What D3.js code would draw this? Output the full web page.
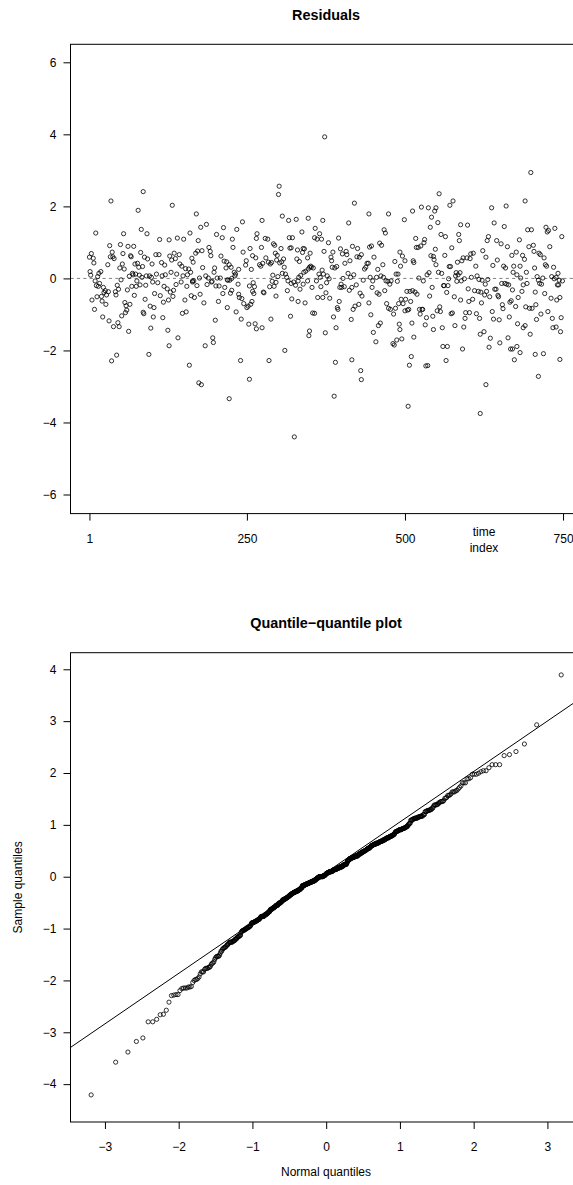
<!DOCTYPE html>
<html><head><meta charset="utf-8">
<script src="https://cdn.jsdelivr.net/npm/d3@7"></script>
<style>body{margin:0;background:#fff}svg{display:block}</style>
</head><body><svg id="c" width="573" height="1185"></svg>
<script>
// ---- data: [time index, residual], by segment ----
const seg1 = [[1,0.59],[2,0.19],[3,0.09],[4,0.69],[5,-0.60],[7,0.56],[8,0.43],[9,-0.86],[10,-0.07],[11,1.26],[12,-0.20],[13,-0.51],[14,0.05],[15,-0.22],[16,0.14],[17,-0.14],[19,0.19],[20,-0.50],[21,-0.63],[22,-1.07],[23,-0.25],[24,-0.39],[26,-0.34],[27,-0.72],[28,-0.46],[30,0.38],[31,-0.37],[32,-1.18],[33,0.91],[34,0.60],[35,2.15],[36,-2.29],[37,0.73],[38,0.60],[39,-1.34],[40,0.55],[42,-0.37],[43,-0.46],[44,-2.13],[45,-0.19],[46,-1.23],[47,-0.30],[48,-1.34],[49,0.29],[50,0.94],[51,-0.04],[52,-1.04],[53,0.40],[54,0.69],[55,1.24],[56,0.26],[57,-0.67],[58,-0.95],[59,-0.76],[60,-0.88],[61,-0.32],[62,0.89],[63,-1.47],[64,0.06],[65,-0.72],[66,0.63],[67,0.60],[68,-0.22],[69,0.14],[70,0.10],[71,0.89],[72,-0.47],[73,0.40]];
const seg2 = [[86,2.41],[78,1.89],[132,2.03],[170,1.79],[83,1.36],[92,1.24],[177,1.42],[186,1.50],[213,1.41],[112,1.08],[127,1.07],[140,1.12],[150,1.09],[160,1.26],[173,1.05],[202,1.22],[211,1.13],[190,0.86],[82,0.72],[88,0.59],[93,0.54],[100,0.40],[106,0.66],[111,0.66],[115,0.44],[120,0.37],[128,0.62],[135,0.70],[143,0.66],[131,0.51],[137,0.55],[144,0.40],[147,0.34],[153,0.27],[158,0.26],[163,0.56],[165,0.45],[169,0.70],[172,0.76],[179,0.77],[180,0.30],[192,0.75],[193,0.63],[199,0.29],[209,0.62],[214,0.48],[77,0.42],[79,0.31],[85,0.33],[74,0.12],[80,0.09],[84,0.03],[91,0.07],[96,0.07],[99,0.03],[107,0.12],[116,0.07],[121,0.10],[130,0.17],[139,0.12],[149,0.07],[156,0.10],[161,0.17],[164,-0.07],[166,-0.07],[175,0.01],[185,0.07],[189,0.01],[195,-0.08],[198,0.17],[203,0.01],[208,0.01],[76,-0.07],[75,-0.22],[81,-0.18],[90,-0.19],[101,-0.10],[109,-0.12],[119,-0.22],[124,-0.29],[129,-0.38],[134,-0.33],[138,-0.17],[146,-0.10],[155,-0.22],[164,-0.10],[171,-0.20],[176,-0.44],[187,-0.17],[194,-0.10],[201,-0.21],[206,-0.21],[212,-0.42],[89,-0.58],[104,-0.42],[113,-0.48],[118,-0.66],[126,-0.60],[133,-0.50],[152,-0.60],[162,-0.48],[167,-0.53],[182,-0.68],[205,-0.64],[97,-0.77],[103,-0.81],[86,-0.94],[87,-0.98],[102,-1.07],[117,-1.09],[148,-0.97],[154,-0.93],[200,-1.16],[98,-1.38],[125,-1.44],[141,-1.65],[127,-1.87],[184,-1.87],[196,-1.65],[197,-1.78],[95,-2.11],[159,-2.41],[174,-2.90],[178,-2.95]];
const seg3 = [[301,2.56],[300,2.33],[306,1.73],[316,1.61],[328,1.64],[347,1.67],[274,1.61],[243,1.57],[234,1.36],[227,1.09],[228,0.86],[266,1.24],[265,1.11],[279,1.11],[283,1.09],[292,0.96],[294,0.92],[317,1.13],[322,1.13],[337,1.29],[357,1.13],[273,0.86],[304,0.83],[318,0.84],[320,0.85],[330,0.79],[339,0.83],[244,0.73],[255,0.83],[259,0.63],[264,0.57],[270,0.38],[272,0.34],[275,0.42],[280,0.57],[284,0.45],[287,0.40],[289,0.44],[295,0.70],[298,0.64],[297,0.51],[302,0.43],[305,0.46],[308,0.54],[329,0.54],[333,0.47],[338,0.72],[341,0.82],[346,0.57],[349,0.31],[352,0.31],[350,0.70],[355,0.29],[249,0.49],[248,0.37],[218,0.46],[217,0.29],[222,0.38],[225,0.31],[237,0.25],[230,0.17],[232,0.12],[257,0.25],[219,-0.04],[220,-0.05],[223,-0.05],[226,0.00],[231,0.07],[236,-0.16],[254,-0.21],[260,-0.12],[262,-0.23],[291,0.09],[299,0.05],[309,0.31],[311,0.12],[313,0.03],[315,-0.07],[320,-0.14],[324,-0.10],[327,-0.19],[331,-0.07],[332,0.03],[335,0.08],[340,0.17],[343,0.20],[347,0.26],[351,0.34],[346,-0.07],[339,-0.16],[334,-0.30],[353,-0.25],[215,-0.25],[224,-0.41],[226,-0.33],[237,-0.44],[238,-0.53],[242,-0.56],[245,-0.70],[250,-0.81],[252,-0.77],[256,-0.72],[258,-0.64],[261,-0.42],[259,-0.36],[276,-0.38],[277,-0.40],[286,-0.23],[290,-0.08],[293,-0.22],[296,-0.11],[296,-0.49],[306,0.14],[314,-0.34],[321,-0.57],[331,-0.64],[342,-0.68],[219,-0.81],[233,-0.93],[241,-1.13],[253,-1.27],[263,-1.26],[265,-1.40],[274,-1.37],[288,-1.13],[319,-1.05],[354,-0.96],[349,-1.46],[348,-1.59],[310,-2.00],[240,-2.28],[285,-2.28],[254,-2.80],[222,-3.34],[325,-4.40]];
const seg4 = [[373,3.93],[420,2.09],[443,1.79],[474,1.79],[499,1.63],[370,1.61],[411,1.54],[358,1.39],[365,1.24],[361,1.09],[368,1.09],[379,0.99],[395,1.12],[467,1.35],[469,1.26],[417,0.89],[425,0.83],[447,0.90],[444,0.87],[460,0.98],[463,0.92],[372,0.75],[386,0.73],[398,0.82],[407,0.75],[408,0.66],[431,0.66],[428,0.59],[492,0.73],[496,0.62],[383,0.59],[384,0.49],[401,0.68],[413,0.49],[405,0.42],[424,0.60],[442,0.42],[451,0.59],[465,0.38],[484,0.47],[493,0.34],[385,0.31],[389,0.29],[392,0.33],[377,0.07],[380,-0.01],[371,0.12],[369,0.23],[364,0.12],[360,-0.07],[366,0.03],[402,0.00],[410,0.14],[414,0.03],[419,0.10],[434,-0.05],[436,0.26],[438,0.31],[440,0.42],[445,0.03],[449,-0.07],[455,0.03],[457,0.25],[462,0.07],[466,0.03],[470,-0.07],[473,-0.08],[476,-0.16],[478,-0.07],[486,0.12],[489,0.12],[488,-0.08],[367,-0.23],[376,-0.12],[375,-0.40],[362,-0.53],[370,-0.53],[381,-0.55],[397,-0.25],[400,-0.25],[404,-0.23],[399,-0.16],[412,-0.33],[416,-0.25],[423,-0.18],[429,-0.41],[432,-0.49],[443,-0.68],[448,-0.25],[456,-0.40],[459,-0.44],[468,-0.34],[471,-0.70],[474,-0.83],[477,-0.86],[482,-0.99],[485,-0.83],[490,-0.70],[494,-0.58],[500,-0.90],[497,-0.70],[396,-0.64],[393,-0.81],[394,-0.86],[418,-0.86],[421,-0.77],[427,-0.72],[415,-1.14],[387,-1.07],[357,-0.97],[446,-1.01],[461,-1.24],[458,-1.31],[374,-1.51],[391,-1.37],[450,-1.50],[491,-1.27],[492,-1.42],[454,-1.76],[481,-1.81],[483,-1.85],[487,-1.71],[495,-1.68],[390,-2.33],[416,-2.26],[430,-2.56],[431,-2.81],[388,-3.27]];
const seg5 = [[554,2.35],[576,2.15],[571,2.03],[637,1.96],[512,1.87],[526,1.98],[537,1.96],[549,1.96],[547,1.87],[542,1.70],[552,1.55],[540,1.42],[588,1.49],[599,1.48],[641,1.54],[517,1.11],[531,1.08],[557,1.22],[564,1.16],[585,1.22],[586,1.05],[632,1.16],[630,1.05],[518,0.86],[521,0.86],[525,0.90],[530,0.99],[548,0.81],[574,0.85],[623,0.77],[541,0.63],[545,0.61],[546,0.52],[563,0.64],[500,0.49],[513,0.49],[514,0.44],[549,0.38],[570,0.33],[583,0.45],[590,0.49],[592,0.57],[598,0.57],[604,0.68],[603,0.55],[608,0.70],[612,0.34],[628,0.59],[639,0.36],[535,0.10],[538,0.16],[553,0.17],[558,0.14],[572,0.33],[580,0.07],[584,0.10],[587,0.16],[581,0.16],[582,-0.08],[589,-0.07],[594,-0.01],[605,0.03],[614,0.07],[617,-0.03],[622,-0.05],[627,-0.16],[631,-0.03],[642,-0.30],[522,0.01],[529,-0.07],[569,-0.01],[503,-0.36],[508,-0.36],[512,-0.34],[516,-0.38],[519,-0.44],[501,-0.58],[509,-0.64],[539,-0.49],[543,-0.25],[561,-0.20],[562,-0.20],[566,-0.39],[568,-0.20],[578,-0.51],[588,-0.60],[600,-0.29],[601,-0.64],[607,-0.58],[610,-0.34],[616,-0.36],[620,-0.38],[621,-0.68],[626,-0.46],[629,-0.36],[634,-0.51],[504,-0.88],[506,-0.86],[523,-0.86],[524,-0.99],[527,-0.86],[528,-0.86],[534,-1.09],[544,-1.05],[551,-0.90],[555,-0.79],[556,-0.92],[573,-0.98],[575,-0.96],[596,-0.95],[602,-0.95],[613,-0.98],[618,-1.11],[638,-0.92],[640,-1.13],[511,-1.24],[532,-1.29],[545,-1.42],[559,-1.37],[579,-1.31],[593,-1.35],[595,-1.11],[625,-1.48],[619,-1.55],[635,-1.66],[514,-1.63],[560,-1.89],[567,-1.89],[591,-1.96],[633,-1.91],[510,-2.17],[507,-2.41],[533,-2.43],[536,-2.42],[565,-2.28],[628,-2.95],[505,-3.55],[619,-3.75]];
const seg6 = [[699,2.94],[690,2.15],[660,2.01],[657,1.44],[694,1.35],[700,1.35],[723,1.42],[727,1.33],[725,1.29],[737,1.39],[748,1.16],[645,1.05],[652,0.96],[662,0.88],[681,1.07],[696,0.88],[703,0.92],[704,0.75],[729,0.88],[676,0.73],[669,0.64],[686,0.64],[689,0.53],[712,0.70],[714,0.66],[720,0.57],[646,0.51],[656,0.34],[659,0.29],[672,0.34],[682,0.34],[705,0.29],[722,0.38],[724,0.34],[735,0.31],[671,0.17],[677,0.10],[683,0.01],[692,0.17],[709,0.05],[711,-0.05],[713,-0.14],[718,0.01],[732,0.05],[736,-0.01],[739,0.03],[742,0.14],[744,-0.05],[741,-0.18],[743,-0.18],[749,-0.07],[653,-0.14],[658,-0.14],[661,-0.16],[664,-0.18],[670,-0.32],[685,-0.36],[687,-0.18],[693,-0.14],[706,-0.38],[716,-0.16],[721,-0.42],[731,-0.55],[740,-0.60],[745,-0.53],[644,-0.30],[647,-0.47],[648,-0.51],[679,-0.53],[691,-0.79],[697,-0.83],[701,-0.83],[707,-0.73],[654,-0.73],[655,-0.84],[666,-0.66],[668,-0.62],[675,-0.78],[649,-1.15],[665,-1.07],[708,-1.14],[715,-0.99],[726,-0.92],[733,-1.11],[747,-1.09],[678,-1.26],[687,-1.37],[690,-1.31],[734,-1.37],[739,-1.35],[746,-1.48],[698,-1.55],[650,-1.79],[663,-1.65],[667,-1.96],[670,-1.96],[677,-1.89],[682,-2.06],[673,-2.26],[706,-2.11],[719,-2.09],[745,-2.25],[711,-2.72]];

// reference line of the QQ panel: [theoretical, sample] at two points
const qqLineTheo = [-3.465, 3.347];
const qqLineSample = [-3.29, 3.34];

// ---- ticks & labels ----
const topXTicks = [1, 250, 500, 750];
const topYTicks = [-6, -4, -2, 0, 2, 4, 6];
const qqXTicks = [-3, -2, -1, 0, 1, 2, 3];
const qqYTicks = [-4, -3, -2, -1, 0, 1, 2, 3, 4];
const topXDomain = [-28.96, 779.96];
const topYDomain = [-6.53, 6.5];
const qqXDomain = [-3.467, 3.469];
const qqYDomain = [-4.73, 4.32];
const topTitle = "Residuals";
const topXLabel = ["time", "index"];
const qqTitle = "Quantile\u2212quantile plot";
const qqXLabel = "Normal quantiles";
const qqYLabel = "Sample quantiles";

// ---- layout ----
const FONT = "'Liberation Sans', Arial, Helvetica, sans-serif";
const L = 70.5, R = 582;
const T1 = 44.3, B1 = 513.6;
const T2 = 652.7, B2 = 1122;
const TICK = 7;

const svg = d3.select("#c");
svg.append("rect").attr("width", 573).attr("height", 1185).attr("fill", "#fff");

const resid = [...seg1, ...seg2, ...seg3, ...seg4, ...seg5, ...seg6].map(([t, r]) => ({ t, r }));

function styleAxis(g) {
  g.attr("font-family", FONT).attr("font-size", 12);
  g.select(".domain").remove();
  g.selectAll(".tick line").attr("stroke", "#000");
  g.selectAll(".tick text").attr("fill", "#000");
}
const intFmt = d3.format("d");

// ===== top panel =====
const x1 = d3.scaleLinear().domain(topXDomain).range([L, R]);
const y1 = d3.scaleLinear().domain(topYDomain).range([B1, T1]);

svg.append("line").attr("x1", L).attr("x2", R).attr("y1", y1(0)).attr("y2", y1(0))
  .attr("stroke", "#808080").attr("stroke-width", 1).attr("stroke-dasharray", "3.2,3.2");

svg.append("g").selectAll("circle").data(resid).join("circle")
  .attr("cx", d => x1(d.t)).attr("cy", d => y1(d.r)).attr("r", 2.1)
  .attr("fill", "none").attr("stroke", "#000").attr("stroke-width", 0.8);

svg.append("rect").attr("x", L).attr("y", T1).attr("width", R - L).attr("height", B1 - T1)
  .attr("fill", "none").attr("stroke", "#000").attr("stroke-width", 1);

svg.append("g").attr("transform", `translate(${L},0)`)
  .call(d3.axisLeft(y1).tickValues(topYTicks).tickSize(TICK).tickPadding(7).tickFormat(intFmt))
  .call(styleAxis);
svg.append("g").attr("transform", `translate(0,${B1})`)
  .call(d3.axisBottom(x1).tickValues(topXTicks).tickSize(TICK).tickPadding(13.5).tickFormat(intFmt))
  .call(styleAxis);

svg.append("text").attr("x", 326).attr("y", 19.5).attr("text-anchor", "middle")
  .attr("font-family", FONT).attr("font-size", 14.4).attr("font-weight", "bold").text(topTitle);
svg.append("text").attr("x", 484).attr("y", 535.5).attr("text-anchor", "middle")
  .attr("font-family", FONT).attr("font-size", 12).text(topXLabel[0]);
svg.append("text").attr("x", 484).attr("y", 551.5).attr("text-anchor", "middle")
  .attr("font-family", FONT).attr("font-size", 12).text(topXLabel[1]);

// ===== QQ panel (standardized residuals against normal quantiles) =====
function qnorm(p) {
  const a = [-3.969683028665376e+01, 2.209460984245205e+02, -2.759285104469687e+02, 1.383577518672690e+02, -3.066479806614716e+01, 2.506628277459239e+00];
  const b = [-5.447609879822406e+01, 1.615858368580409e+02, -1.556989798598866e+02, 6.680131188771972e+01, -1.328068155288572e+01];
  const c = [-7.784894002430293e-03, -3.223964580411365e-01, -2.400758277161838e+00, -2.549732539343734e+00, 4.374664141464968e+00, 2.938163982698783e+00];
  const d = [7.784695709041462e-03, 3.224671290700398e-01, 2.445134137142996e+00, 3.754408661907416e+00];
  const pl = 0.02425;
  let q, r;
  if (p < pl) { q = Math.sqrt(-2 * Math.log(p)); return (((((c[0]*q+c[1])*q+c[2])*q+c[3])*q+c[4])*q+c[5])/((((d[0]*q+d[1])*q+d[2])*q+d[3])*q+1); }
  if (p > 1 - pl) { q = Math.sqrt(-2 * Math.log(1 - p)); return -(((((c[0]*q+c[1])*q+c[2])*q+c[3])*q+c[4])*q+c[5])/((((d[0]*q+d[1])*q+d[2])*q+d[3])*q+1); }
  q = p - 0.5; r = q * q;
  return (((((a[0]*r+a[1])*r+a[2])*r+a[3])*r+a[4])*r+a[5])*q/(((((b[0]*r+b[1])*r+b[2])*r+b[3])*r+b[4])*r+1);
}
const rMean = d3.mean(resid, d => d.r), rSd = d3.deviation(resid, d => d.r);
const sorted = resid.map(d => (d.r - rMean) / rSd).sort(d3.ascending);
const n = sorted.length;
const qq = sorted.map((v, i) => ({ th: qnorm((i + 0.5) / n), s: v }));

const x2 = d3.scaleLinear().domain(qqXDomain).range([L, R]);
const y2 = d3.scaleLinear().domain(qqYDomain).range([B2, T2]);

svg.append("clipPath").attr("id", "qqclip").append("rect")
  .attr("x", L).attr("y", T2).attr("width", R - L).attr("height", B2 - T2);

svg.append("g").selectAll("circle").data(qq).join("circle")
  .attr("cx", d => x2(d.th)).attr("cy", d => y2(d.s)).attr("r", 2.1)
  .attr("fill", "none").attr("stroke", "#000").attr("stroke-width", 0.8);

const lineSlope = (qqLineSample[1] - qqLineSample[0]) / (qqLineTheo[1] - qqLineTheo[0]);
const lineAt = t => qqLineSample[0] + lineSlope * (t - qqLineTheo[0]);
svg.append("line").attr("clip-path", "url(#qqclip)")
  .attr("x1", x2(qqXDomain[0])).attr("y1", y2(lineAt(qqXDomain[0])))
  .attr("x2", x2(qqXDomain[1])).attr("y2", y2(lineAt(qqXDomain[1])))
  .attr("stroke", "#000").attr("stroke-width", 1);

svg.append("rect").attr("x", L).attr("y", T2).attr("width", R - L).attr("height", B2 - T2)
  .attr("fill", "none").attr("stroke", "#000").attr("stroke-width", 1);

svg.append("g").attr("transform", `translate(${L},0)`)
  .call(d3.axisLeft(y2).tickValues(qqYTicks).tickSize(TICK).tickPadding(7).tickFormat(intFmt))
  .call(styleAxis);
svg.append("g").attr("transform", `translate(0,${B2})`)
  .call(d3.axisBottom(x2).tickValues(qqXTicks).tickSize(TICK).tickPadding(13.5).tickFormat(intFmt))
  .call(styleAxis);

svg.append("text").attr("x", 326).attr("y", 627.8).attr("text-anchor", "middle")
  .attr("font-family", FONT).attr("font-size", 14.4).attr("font-weight", "bold").text(qqTitle);
svg.append("text").attr("x", 326).attr("y", 1175.5).attr("text-anchor", "middle")
  .attr("font-family", FONT).attr("font-size", 12).text(qqXLabel);
svg.append("text").attr("transform", `translate(22,${(T2 + B2) / 2}) rotate(-90)`).attr("text-anchor", "middle")
  .attr("font-family", FONT).attr("font-size", 12).text(qqYLabel);
</script>
</body></html>
